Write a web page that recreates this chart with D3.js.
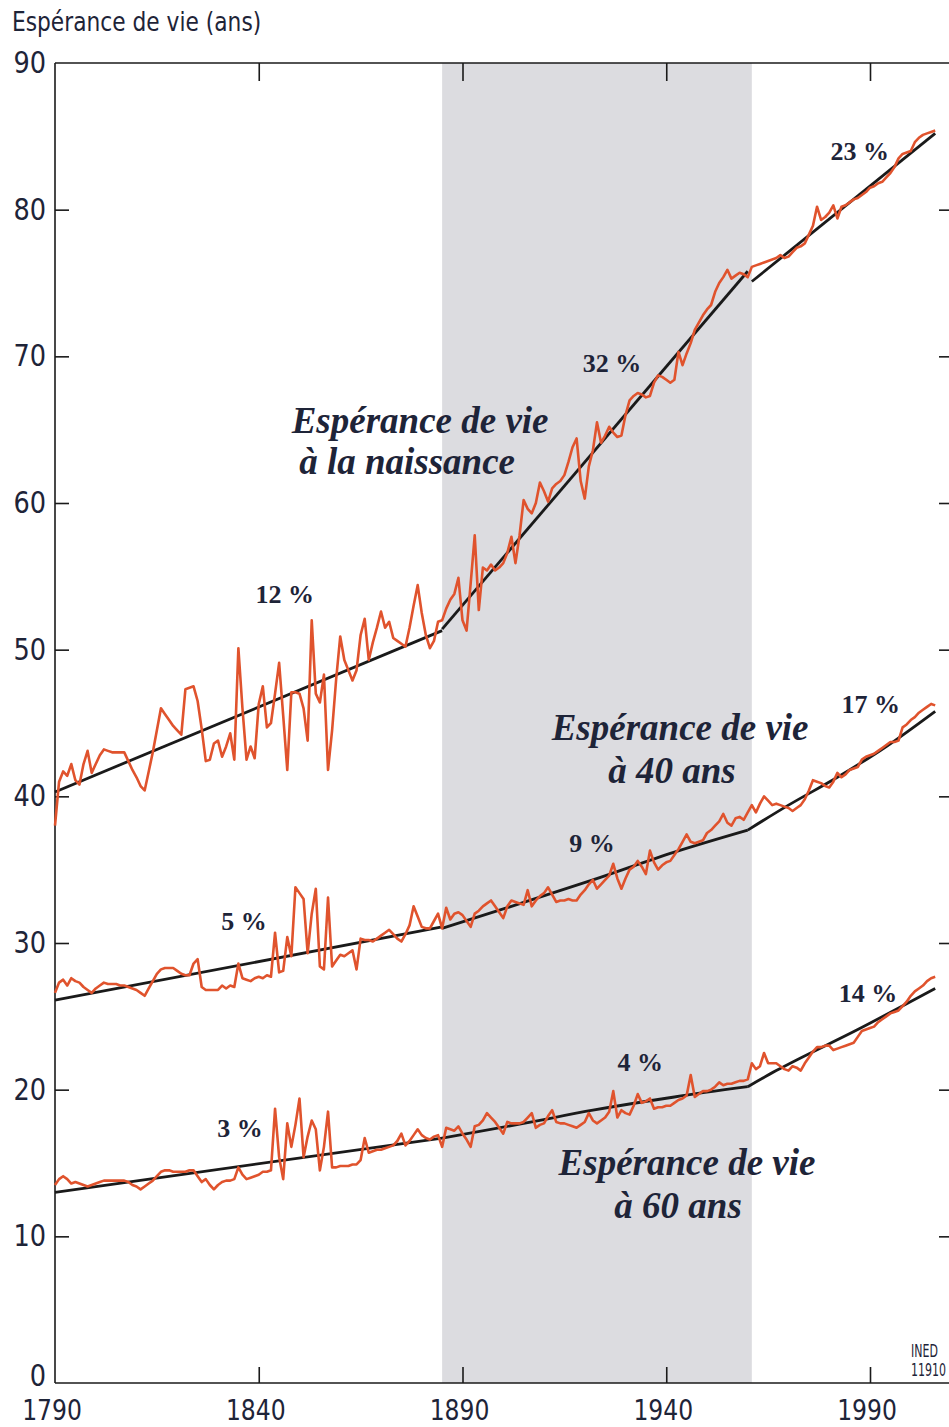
<!DOCTYPE html>
<html><head><meta charset="utf-8">
<script src="https://cdn.jsdelivr.net/npm/d3@7"></script>
<style>body{margin:0;background:#fff;} svg{display:block}</style>
</head><body>
<script>
// ---------- DATA ----------
const firstYear = 1790;
const lastYear = 2006;
const shadedPeriod = [1885, 1961];
const xTickYears = [1790, 1840, 1890, 1940, 1990];
const yTickValues = [0, 10, 20, 30, 40, 50, 60, 70, 80, 90];

// Life expectancy at birth (annual, 1790-2006)
const e0Values = [
 38.0,41.0,41.7,41.4,42.2,41.1,40.8,42.2,43.1,41.6,
 42.2,42.8,43.2,43.1,43.0,43.0,43.0,43.0,42.4,41.8,
 41.3,40.7,40.4,41.7,43.0,44.5,46.0,45.6,45.2,44.8,
 44.5,44.2,47.3,47.4,47.5,46.5,44.6,42.4,42.5,43.6,
 43.8,42.7,43.4,44.3,42.5,50.1,46.0,42.5,43.4,42.6,
 46.3,47.5,44.7,45.0,47.0,49.1,45.5,41.8,47.1,47.1,
 47.0,46.0,43.8,52.0,47.0,46.4,48.3,41.8,44.5,48.0,
 50.9,49.3,48.6,47.9,48.6,51.0,52.1,49.3,50.5,51.5,
 52.6,51.5,51.9,50.8,50.6,50.4,50.2,51.5,53.0,54.4,
 52.5,51.0,50.1,50.6,51.9,52.0,52.8,53.4,53.8,54.9,
 52.0,51.3,54.5,57.8,52.7,55.6,55.4,55.8,55.4,55.6,
 55.9,56.6,57.7,55.9,57.8,60.2,59.6,59.3,60.0,61.4,
 60.8,60.1,61.0,61.3,61.5,61.9,62.8,63.8,64.4,61.5,
 60.3,62.5,63.6,65.5,64.1,64.6,65.2,64.8,64.5,64.6,
 66.0,67.0,67.3,67.5,67.4,67.2,67.3,68.2,68.7,68.6,
 68.4,68.2,68.4,70.3,69.4,70.2,70.9,71.8,72.3,72.8,
 73.2,73.5,74.4,75.0,75.4,75.9,75.3,75.5,75.7,75.6,
 75.4,76.1,76.2,76.3,76.4,76.5,76.6,76.7,76.9,76.7,
 76.8,77.1,77.4,77.5,77.7,78.3,78.9,80.2,79.3,79.5,
 79.8,80.3,79.4,80.2,80.3,80.5,80.7,80.8,81.0,81.2,
 81.5,81.6,81.8,81.9,82.2,82.5,82.9,83.5,83.8,83.9,
 84.0,84.6,84.9,85.1,85.2,85.3,85.4
];
// Life expectancy at age 40
const e40Values = [
 26.6,27.3,27.5,27.1,27.6,27.4,27.3,27.0,26.8,26.6,
 26.9,27.1,27.3,27.2,27.2,27.2,27.1,27.1,27.0,26.9,
 26.8,26.6,26.4,26.9,27.4,27.9,28.2,28.3,28.3,28.3,
 28.1,27.9,27.8,27.8,28.6,28.9,27.0,26.8,26.8,26.8,
 26.8,27.1,26.9,27.1,27.0,28.6,27.6,27.5,27.4,27.6,
 27.7,27.6,27.8,27.7,30.7,28.0,28.1,30.4,29.1,33.8,
 33.4,33.0,29.3,32.0,33.7,28.4,28.2,33.1,28.4,28.8,
 29.2,29.1,29.3,29.5,28.2,30.3,30.2,30.2,30.1,30.3,
 30.5,30.7,30.9,30.6,30.3,30.1,30.6,31.2,32.5,31.8,
 31.1,31.0,31.0,31.5,32.0,31.0,32.4,31.6,32.0,32.1,
 31.9,31.5,31.1,32.0,32.2,32.5,32.7,32.9,32.5,32.1,
 31.7,32.5,32.9,32.8,32.7,32.6,33.6,32.5,32.9,33.2,
 33.4,33.8,33.3,32.8,32.9,32.9,33.0,32.9,32.9,33.3,
 33.6,34.0,34.3,33.7,34.0,34.3,34.6,35.4,34.4,33.7,
 34.4,35.0,35.2,35.6,35.2,34.7,36.3,35.5,35.0,35.3,
 35.5,35.6,36.0,36.4,36.9,37.4,36.9,36.8,36.9,37.0,
 37.5,37.7,38.0,38.3,38.8,38.2,38.0,38.5,38.6,38.4,
 38.9,39.4,38.9,39.5,40.0,39.7,39.4,39.5,39.4,39.3,
 39.2,39.0,39.2,39.4,39.8,40.4,41.1,41.0,40.9,40.7,
 40.6,41.0,41.6,41.3,41.5,41.8,41.9,42.0,42.5,42.7,
 42.8,42.9,43.1,43.3,43.5,43.7,43.7,43.8,44.7,44.9,
 45.2,45.4,45.7,45.9,46.1,46.3,46.2
];
// Life expectancy at age 60
const e60Values = [
 13.5,13.9,14.1,13.9,13.6,13.7,13.6,13.5,13.4,13.5,
 13.6,13.7,13.8,13.8,13.8,13.8,13.8,13.8,13.7,13.5,
 13.4,13.2,13.4,13.6,13.8,14.1,14.4,14.5,14.5,14.4,
 14.4,14.4,14.4,14.5,14.5,14.1,13.7,13.9,13.5,13.2,
 13.5,13.7,13.8,13.8,13.9,14.7,14.2,13.9,14.0,14.1,
 14.2,14.4,14.4,14.5,18.7,15.4,13.9,17.7,16.1,17.6,
 19.4,15.4,16.8,17.9,17.3,14.5,16.1,18.5,14.7,14.7,
 14.8,14.8,14.8,14.9,14.9,15.2,16.7,15.7,15.8,15.9,
 15.9,16.0,16.1,16.2,16.5,17.0,16.2,16.5,16.9,17.3,
 16.9,16.7,16.6,16.8,16.9,16.1,17.4,17.3,17.2,17.5,
 17.0,16.6,16.1,17.5,17.6,17.9,18.4,18.1,17.8,17.4,
 17.0,17.8,17.7,17.7,17.7,17.8,18.1,18.4,17.4,17.6,
 17.7,18.2,18.6,17.8,17.7,17.7,17.6,17.5,17.4,17.6,
 17.8,18.4,17.9,17.7,17.9,18.1,18.5,19.9,18.1,18.6,
 18.4,18.3,18.9,19.7,19.1,19.2,19.4,18.7,18.8,18.8,
 18.9,18.9,19.1,19.3,19.4,19.6,21.0,19.5,19.7,19.9,
 19.9,20.0,20.2,20.5,20.3,20.4,20.4,20.5,20.6,20.6,
 20.7,21.8,21.4,21.6,22.5,21.8,21.8,21.8,21.6,21.4,
 21.3,21.6,21.5,21.3,21.8,22.2,22.6,22.9,22.9,23.0,
 23.0,22.7,22.8,22.9,23.0,23.1,23.2,23.6,24.0,24.1,
 24.2,24.3,24.6,24.8,25.0,25.2,25.3,25.4,25.7,26.0,
 26.4,26.7,26.9,27.1,27.4,27.6,27.7
];

// Trend segments, [year, value] points
const e0Trend = [
  [[1790,40.3],[1885,51.3]],
  [[1885,51.4],[1960,75.8]],
  [[1961,75.1],[2006,85.2]]
];
const e40Trend = [
  [[1790,26.1],[1885,31.1]],
  [[1885,31.0],[1902,32.5],[1922,34.3],[1942,36.2],[1960,37.7]],
  [[1960,37.7],[1970,39.4],[1982,41.3],[1994,43.4],[2006,45.8]]
];
const e60Trend = [
  [[1790,13.0],[1885,16.7]],
  [[1885,16.7],[1905,17.7],[1922,18.6],[1942,19.5],[1960,20.2]],
  [[1960,20.2],[1967,21.3],[1987,24.1],[2006,26.9]]
];

const pctLabels = ["12 %","32 %","23 %","5 %","9 %","17 %","3 %","4 %","14 %"];
const pctAnchors = [[1846.4,53.2],[1926.7,68.9],[1987.5,83.4],[1836.4,30.9],[1921.8,36.2],[1990.2,45.7],[1835.4,16.8],[1933.6,21.3],[1989.5,26.0]];

const seriesLabels = [
  ["Espérance de vie","à la naissance"],
  ["Espérance de vie","à 40 ans"],
  ["Espérance de vie","à 60 ans"]
];
const seriesLabelAnchors = [
  [[1879.6,64.8],[1876.4,61.95]],
  [[1943.4,43.85],[1941.4,40.9]],
  [[1945.1,14.2],[1942.9,11.25]]
];
const yTitle = "Espérance de vie (ans)";
const sourceLines = ["INED","11910"];

// ---------- DRAW ----------
const W = 949, H = 1427;
const svg = d3.select("body").append("svg").attr("width", W).attr("height", H);

const x = d3.scaleLinear().domain([1790, 2010]).range([55, 951.5]);
const y = d3.scaleLinear().domain([0, 90]).range([1383, 63]);

const years = d3.range(firstYear, lastYear + 1);
const sans = '"DejaVu Sans Condensed","Liberation Sans Narrow",sans-serif';
const serif = '"Liberation Serif","DejaVu Serif",serif';
const textCol = "#1e2438";

// shaded period
svg.append("rect")
  .attr("x", x(shadedPeriod[0])).attr("y", y(90))
  .attr("width", x(shadedPeriod[1]) - x(shadedPeriod[0]))
  .attr("height", y(0) - y(90))
  .attr("fill", "#dcdce0");

// frame lines
const frame = svg.append("g").attr("stroke", "#1a1a1a").attr("stroke-width", 1.6).attr("fill", "none");
frame.append("line").attr("x1", x(1790)).attr("x2", W).attr("y1", y(90)).attr("y2", y(90));
frame.append("line").attr("x1", x(1790)).attr("x2", W).attr("y1", y(0)).attr("y2", y(0));
frame.append("line").attr("x1", x(1790)).attr("x2", x(1790)).attr("y1", y(90)).attr("y2", y(0));

// axes via d3 axis generators
const axisStyle = g => { g.select(".domain").remove(); g.selectAll("line").attr("stroke", "#1a1a1a").attr("stroke-width", 1.6); };
svg.append("g").attr("transform", `translate(0,${y(0)})`)
  .call(d3.axisTop(x).tickValues(xTickYears.slice(1)).tickSize(16).tickFormat(""))
  .call(axisStyle);
svg.append("g").attr("transform", `translate(0,${y(90)})`)
  .call(d3.axisBottom(x).tickValues(xTickYears.slice(1)).tickSize(18).tickFormat(""))
  .call(axisStyle);
svg.append("g").attr("transform", `translate(${x(1790)},0)`)
  .call(d3.axisRight(y).tickValues(yTickValues.slice(1, -1)).tickSize(14).tickFormat(""))
  .call(axisStyle);
svg.append("g").attr("transform", `translate(${W},0)`)
  .call(d3.axisLeft(y).tickValues(yTickValues.slice(1, -1)).tickSize(10).tickFormat(""))
  .call(axisStyle);

// tick labels
svg.append("g").selectAll("text").data(yTickValues).join("text")
  .attr("transform", d => `translate(46,${y(d) + (d === 0 ? 3 : 10)}) scale(0.95,1)`)
  .attr("text-anchor", "end")
  .attr("font-family", sans).attr("font-size", 30).attr("fill", textCol)
  .text(d => d);
svg.append("g").selectAll("text").data(xTickYears).join("text")
  .attr("transform", d => `translate(${x(d) - 3},1420) scale(0.9,1)`)
  .attr("text-anchor", "middle")
  .attr("font-family", sans).attr("font-size", 29).attr("fill", textCol)
  .text(d => d);

svg.append("text").attr("transform", "translate(12,31) scale(0.93,1)")
  .attr("font-family", sans).attr("font-size", 26).attr("fill", textCol)
  .text(yTitle);

// trend lines
const trendLine = d3.line().x(d => x(d[0])).y(d => y(d[1])).curve(d3.curveMonotoneX);
[e0Trend, e40Trend, e60Trend].forEach(tr => {
  svg.append("g").selectAll("path").data(tr).join("path")
    .attr("d", trendLine)
    .attr("fill", "none").attr("stroke", "#1a1a1a").attr("stroke-width", 2.8);
});

// data series
const dataLine = d3.line().x((d, i) => x(years[i])).y(d => y(d));
[e0Values, e40Values, e60Values].forEach(vals => {
  svg.append("path").datum(vals)
    .attr("d", dataLine)
    .attr("fill", "none").attr("stroke", "#e0532d").attr("stroke-width", 2.6)
    .attr("stroke-linejoin", "round");
});

// percentage labels
svg.append("g").selectAll("text").data(pctLabels).join("text")
  .attr("x", (d, i) => x(pctAnchors[i][0]))
  .attr("y", (d, i) => y(pctAnchors[i][1]))
  .attr("text-anchor", "middle")
  .attr("font-family", serif).attr("font-size", 26).attr("font-weight", 600)
  .attr("fill", textCol)
  .text(d => d);

// series labels
seriesLabels.forEach((lines, k) => {
  svg.append("g").selectAll("text").data(lines).join("text")
    .attr("x", (d, i) => x(seriesLabelAnchors[k][i][0]))
    .attr("y", (d, i) => y(seriesLabelAnchors[k][i][1]))
    .attr("text-anchor", "middle")
    .attr("font-family", serif).attr("font-size", 37)
    .attr("font-style", "italic").attr("font-weight", "bold")
    .attr("fill", textCol)
    .text(d => d);
});

// source
svg.append("g").selectAll("text").data(sourceLines).join("text")
  .attr("transform", (d, i) => `translate(911,${1357 + i * 19}) scale(0.72,1)`)
  .attr("font-family", sans).attr("font-size", 17).attr("fill", textCol)
  .text(d => d);
</script>
</body></html>
